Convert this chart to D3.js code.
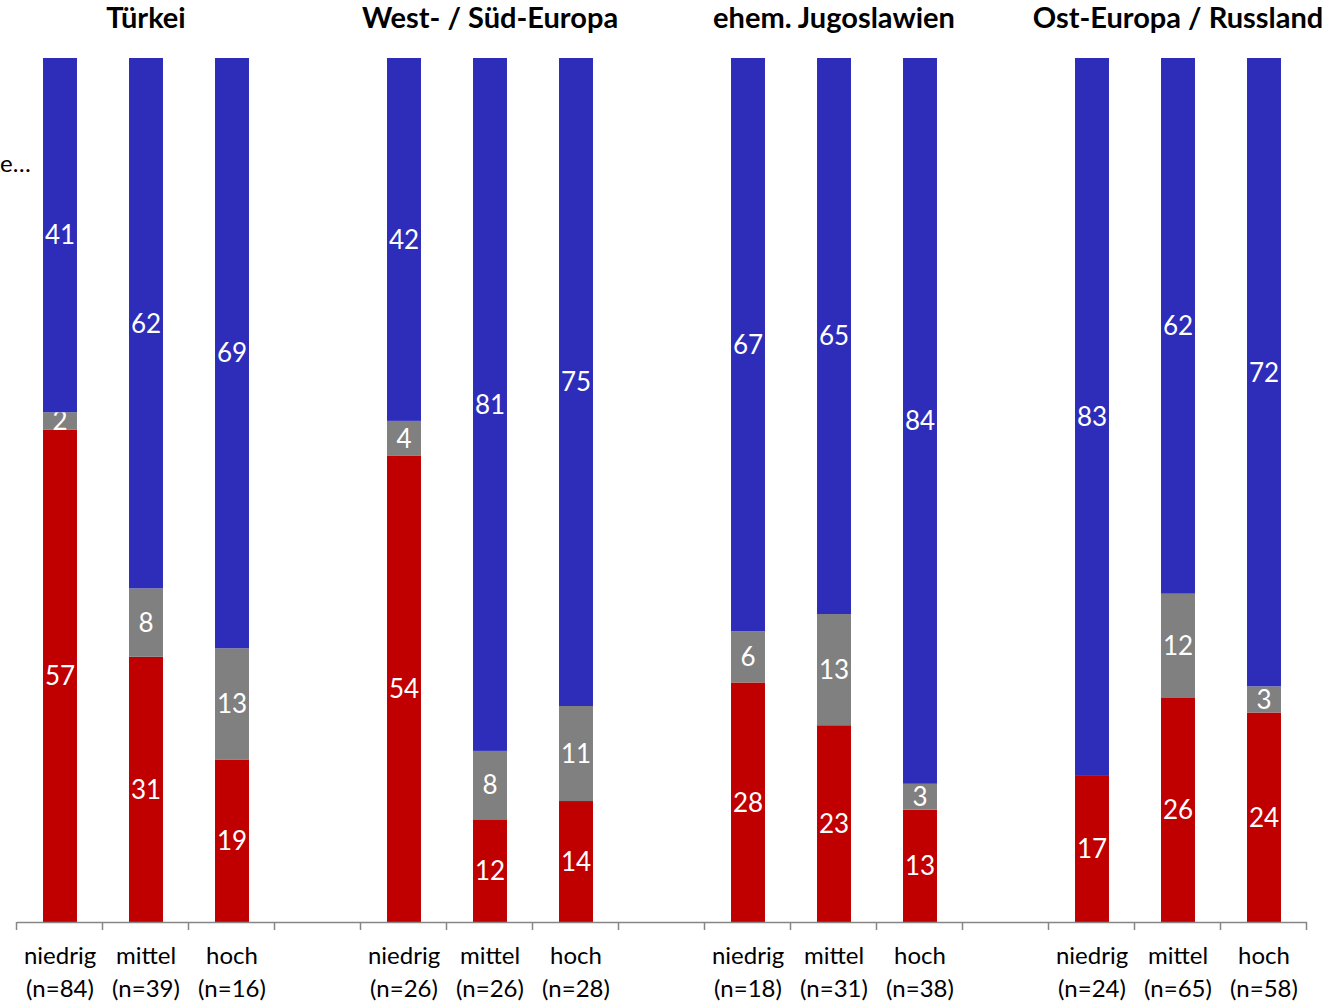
<!DOCTYPE html>
<html>
<head>
<meta charset="utf-8">
<script src="https://cdn.jsdelivr.net/npm/d3@7"></script>
<style>
  html, body { margin: 0; padding: 0; background: #fff; }
  svg { display: block; }
  text { font-family: Lato, "Open Sans", sans-serif; }
</style>
</head>
<body>
<svg id="chart" width="1330" height="1003"></svg>
<script>
// Herkunftsgruppen und Bildungsniveaus
const groups = ["Türkei", "West- / Süd-Europa", "ehem. Jugoslawien", "Ost-Europa / Russland"];
const levels = ["niedrig", "mittel", "hoch"];
const sampleSizes = [
  [84, 39, 16],
  [26, 26, 28],
  [18, 31, 38],
  [24, 65, 58]
];
// Anteile in Prozent je Balken (unten → oben)
const redValues  = [[57, 31, 19], [54, 12, 14], [28, 23, 13], [17, 26, 24]];
const grayValues = [[2, 8, 13],   [4, 8, 11],   [6, 13, 3],   [0, 12, 3]];
const blueValues = [[41, 62, 69], [42, 81, 75], [67, 65, 84], [83, 62, 72]];

const seriesKeys = ["red", "gray", "blue"];
const seriesColors = { red: "#C00000", gray: "#808080", blue: "#2E2DB9" };

// one row per bar, with an empty slot between groups
const rows = [];
const slots = [];
groups.forEach((g, gi) => {
  if (gi > 0) slots.push(gi + "-gap");
  levels.forEach((lv, li) => {
    const key = gi + "-" + li;
    slots.push(key);
    rows.push({
      key, group: g, level: lv, n: sampleSizes[gi][li],
      red: redValues[gi][li], gray: grayValues[gi][li], blue: blueValues[gi][li]
    });
  });
});

const svg = d3.select("#chart");
const x = d3.scaleBand().domain(slots).range([17, 1307]);
const y = d3.scaleLinear().domain([0, 1]).range([922, 58]);
const barW = x.bandwidth() * 0.395;

// 100%-stacked layout
const stacked = d3.stack().keys(seriesKeys).offset(d3.stackOffsetExpand)(rows);

const layer = svg.append("g");
stacked.forEach(series => {
  const key = series.key;
  const g = layer.append("g");
  g.selectAll("rect").data(series).join("rect")
    .attr("x", d => x(d.data.key) + (x.bandwidth() - barW) / 2)
    .attr("width", barW)
    .attr("y", d => y(d[1]))
    .attr("height", d => y(d[0]) - y(d[1]))
    .attr("fill", seriesColors[key]);
  g.selectAll("text").data(series.filter(d => d.data[key] > 0)).join("text")
    .attr("x", d => x(d.data.key) + x.bandwidth() / 2)
    .attr("y", d => (y(d[0]) + y(d[1])) / 2)
    .attr("dy", "0.36em")
    .attr("text-anchor", "middle")
    .attr("fill", "#fff")
    .attr("font-size", 26)
    .text(d => d.data[key]);
});

// category axis with ticks at slot boundaries
const axisG = svg.append("g");
axisG.append("line")
  .attr("x1", 17).attr("x2", 1307).attr("y1", 922.5).attr("y2", 922.5)
  .attr("stroke", "#868686").attr("stroke-width", 1.5);
const boundaries = slots.map(s => x(s)).concat([x.range()[1]]);
axisG.selectAll("line.tick").data(boundaries).join("line")
  .attr("class", "tick")
  .attr("x1", d => Math.round(d) - 0.5).attr("x2", d => Math.round(d) - 0.5)
  .attr("y1", 922).attr("y2", 930)
  .attr("stroke", "#868686").attr("stroke-width", 1.5);

const tickLabels = axisG.selectAll("g.lbl").data(rows).join("g")
  .attr("class", "lbl")
  .attr("transform", d => `translate(${x(d.key) + x.bandwidth() / 2},0)`);
tickLabels.append("text")
  .attr("y", 964).attr("text-anchor", "middle").attr("font-size", 24).attr("fill", "#000")
  .text(d => d.level);
tickLabels.append("text")
  .attr("y", 997).attr("text-anchor", "middle").attr("font-size", 24).attr("fill", "#000")
  .text(d => `(n=${d.n})`);

// group headings
svg.selectAll("text.title").data(groups).join("text")
  .attr("class", "title")
  .attr("x", (g, gi) => x(gi + "-1") + x.bandwidth() / 2)
  .attr("y", 28)
  .attr("text-anchor", "middle")
  .attr("font-size", 29)
  .attr("font-weight", "bold")
  .attr("fill", "#000")
  .text(g => g);

// side label
svg.append("text")
  .attr("x", 0).attr("y", 172)
  .attr("font-size", 24)
  .attr("fill", "#000")
  .text("e…");
</script>
</body>
</html>
